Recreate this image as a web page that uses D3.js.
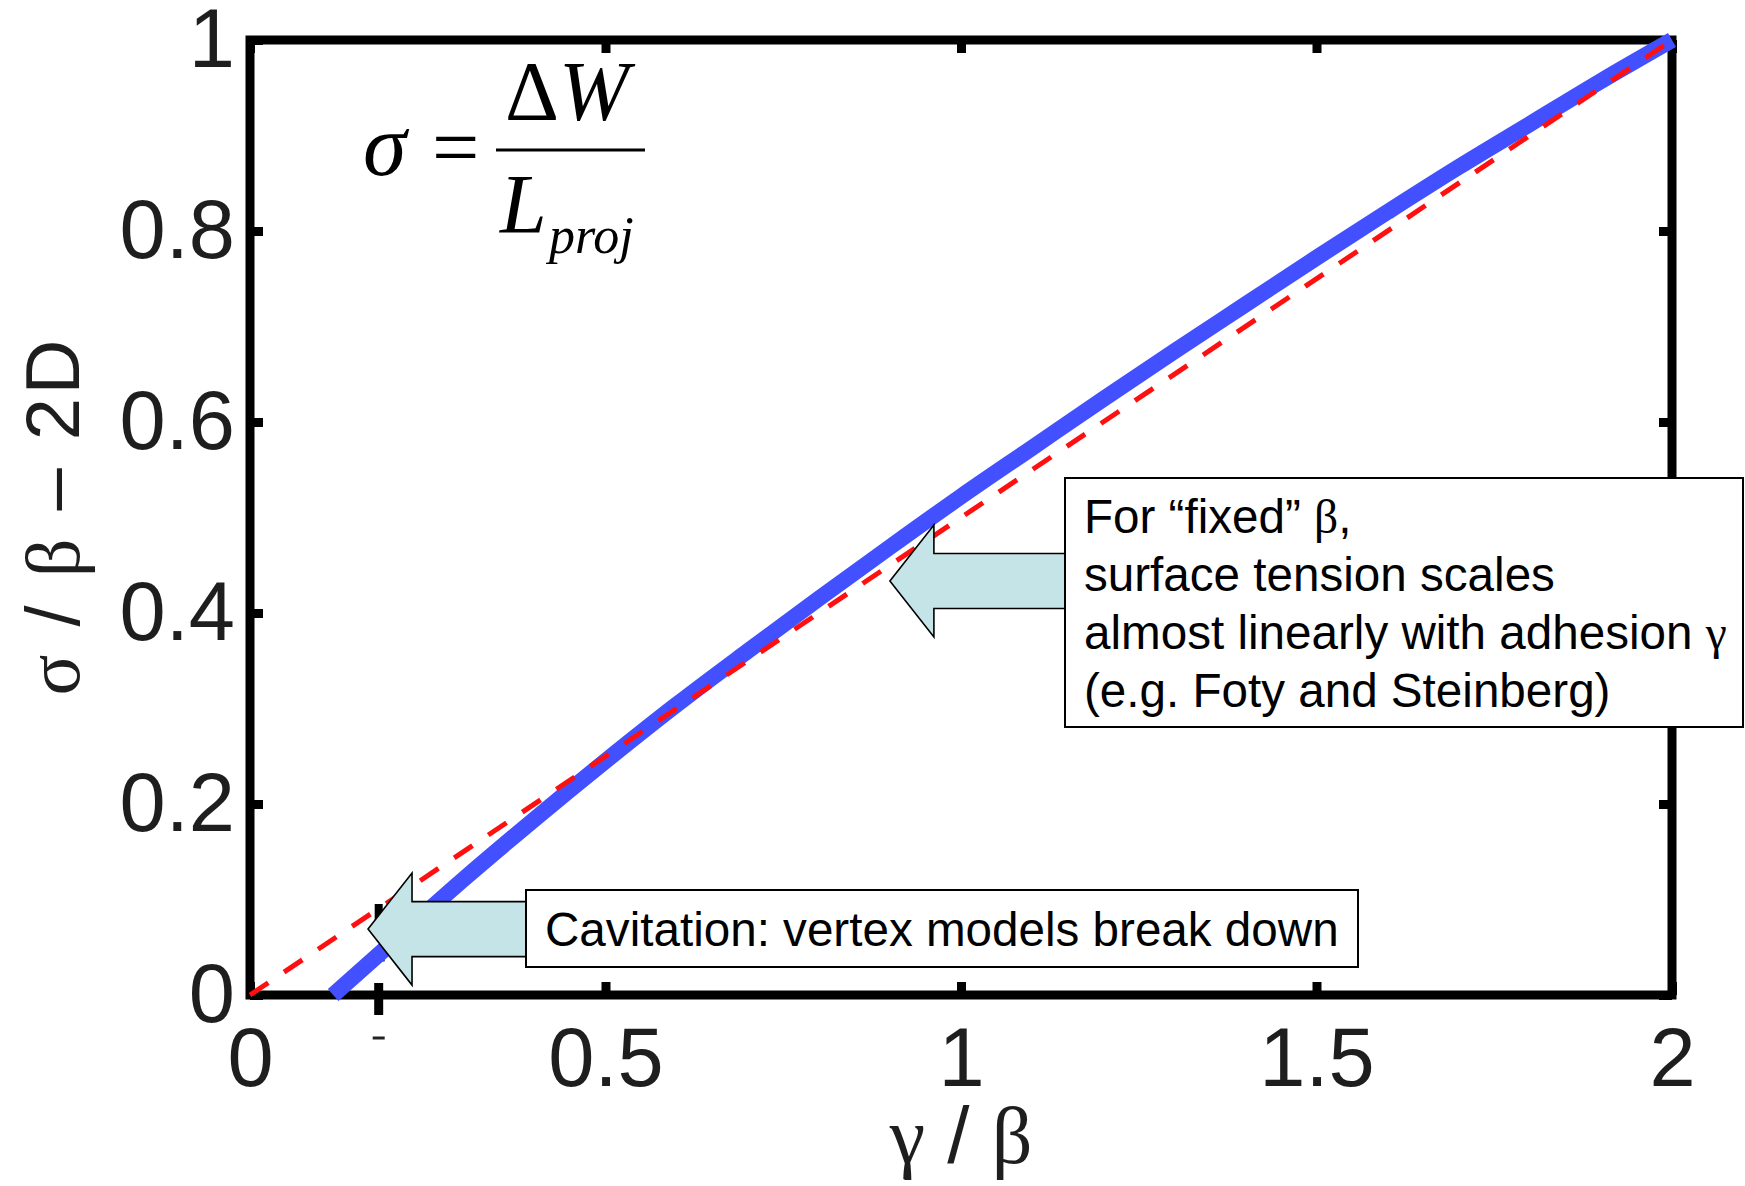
<!DOCTYPE html>
<html>
<head>
<meta charset="utf-8">
<script src="https://cdn.jsdelivr.net/npm/d3@7"></script>
<style>
  html, body { margin: 0; padding: 0; background: #fff; }
  svg { display: block; }
</style>
</head>
<body>
<script>
/* surface tension vs adhesion, vertex model 2D */

const width = 1745, height = 1186;

// blue curve: sigma/beta
const gammaVals = [0.117, 0.2, 0.3, 0.4, 0.5, 0.6, 0.7, 0.8, 0.9, 1.0,
  1.1, 1.2, 1.3, 1.4, 1.5, 1.6, 1.7, 1.8, 1.9, 2.0];
const sigmaVals = [0, 0.055, 0.121, 0.184, 0.245, 0.304, 0.360, 0.415, 0.469, 0.522,
  0.573, 0.624, 0.674, 0.723, 0.772, 0.820, 0.867, 0.912, 0.957, 1.0];

// red dashed linear reference
const refX = [0, 2];
const refY = [0, 1];

const xTicks = [0, 0.5, 1, 1.5, 2];
const yTicks = [0, 0.2, 0.4, 0.6, 0.8, 1];
const xTickLabels = ["0", "0.5", "1", "1.5", "2"];
const yTickLabels = ["0", "0.2", "0.4", "0.6", "0.8", "1"];
const strayTick = 0.181; // extra tick on the x axis

const notes = [
  { at: [0.166, 0.069], lines: [["Cavitation: vertex models break down"]] },
  { at: [0.90, 0.4335], lines: [
    ["For \u201cfixed\u201d ", {g: "\u03b2"}, ","],
    ["surface tension scales"],
    ["almost linearly with adhesion ", {g: "\u03b3"}],
    ["(e.g. Foty and Steinberg)"]
  ]}
];

const margin = {top: 40, right: 73, bottom: 191, left: 250};

const x = d3.scaleLinear()
  .domain([0, 2])
  .range([margin.left, width - margin.right]);

const y = d3.scaleLinear()
  .domain([0, 1])
  .range([height - margin.bottom, margin.top]);

const svg = d3.select("body").append("svg")
  .attr("width", width)
  .attr("height", height);

const sans = "'Liberation Sans', Arial, Helvetica, sans-serif";
const serif = "'Liberation Serif', 'Times New Roman', serif";
const ink = "#1e1e1e";

// frame
svg.append("rect")
  .attr("x", x(0)).attr("y", y(1))
  .attr("width", x(2) - x(0)).attr("height", y(0) - y(1))
  .attr("fill", "none").attr("stroke", "#000").attr("stroke-width", 9);

function styleAxis(g) {
  g.select(".domain").remove();
  g.selectAll(".tick line").attr("stroke", "#000").attr("stroke-width", 9);
  g.selectAll(".tick text")
    .attr("fill", ink)
    .attr("font-family", sans)
    .attr("font-size", 83);
}

svg.append("g")
  .attr("transform", `translate(0,${y(0)})`)
  .call(d3.axisBottom(x).tickValues(xTicks)
    .tickFormat((d, i) => xTickLabels[i])
    .tickSizeInner(-13).tickSizeOuter(0).tickPadding(32))
  .call(styleAxis);

svg.append("g")
  .attr("transform", `translate(${x(0)},0)`)
  .call(d3.axisLeft(y).tickValues(yTicks)
    .tickFormat((d, i) => yTickLabels[i])
    .tickSizeInner(-13).tickSizeOuter(0).tickPadding(15))
  .call(styleAxis);

svg.append("g")
  .attr("transform", `translate(0,${y(1)})`)
  .call(d3.axisTop(x).tickValues(xTicks).tickFormat("")
    .tickSizeInner(-13).tickSizeOuter(0))
  .call(styleAxis);

svg.append("g")
  .attr("transform", `translate(${x(2)},0)`)
  .call(d3.axisRight(y).tickValues(yTicks).tickFormat("")
    .tickSizeInner(-13).tickSizeOuter(0))
  .call(styleAxis);

// the stray tick and its little dashes
const sx = x(strayTick);
svg.append("line")
  .attr("x1", sx).attr("x2", sx)
  .attr("y1", y(0) - 12).attr("y2", y(0) + 20)
  .attr("stroke", "#000").attr("stroke-width", 9);
svg.append("line")
  .attr("x1", sx).attr("x2", sx)
  .attr("y1", y(0) - 91).attr("y2", y(0) - 73)
  .attr("stroke", "#000").attr("stroke-width", 8);
[y(0) - 35, y(0) + 43].forEach(py => {
  svg.append("line")
    .attr("x1", sx - 6).attr("x2", sx + 6)
    .attr("y1", py).attr("y2", py)
    .attr("stroke", "#222").attr("stroke-width", 3);
});

const line = d3.line()
  .x(d => x(d[0]))
  .y(d => y(d[1]))
  .curve(d3.curveMonotoneX);

svg.append("path")
  .datum(d3.zip(gammaVals, sigmaVals))
  .attr("d", line)
  .attr("fill", "none")
  .attr("stroke", "#4250ff")
  .attr("stroke-width", 16);

svg.append("path")
  .datum(d3.zip(refX, refY))
  .attr("d", d3.line().x(d => x(d[0])).y(d => y(d[1])))
  .attr("fill", "none")
  .attr("stroke", "#ff1010")
  .attr("stroke-width", 5)
  .attr("stroke-dasharray", "22,19");

// block arrows pointing left, then the text boxes
const boxes = [
  {x0: 526, y0: 890, w: 832, h: 77, tx: 545, ty: [946]},
  {x0: 1065, y0: 478, w: 678, h: 249, tx: 1084, ty: [533, 591, 649, 707]}
];

notes.forEach((n, i) => {
  const b = boxes[i];
  const tipX = x(n.at[0]), tipY = y(n.at[1]);
  const hx = tipX + 44;
  const pts = [
    [tipX, tipY], [hx, tipY - 56], [hx, tipY - 27.5], [b.x0, tipY - 27.5],
    [b.x0, tipY + 27.5], [hx, tipY + 27.5], [hx, tipY + 56]
  ];
  svg.append("polygon")
    .attr("points", pts.map(p => p.join(",")).join(" "))
    .attr("fill", "#c4e4e7")
    .attr("stroke", "#000")
    .attr("stroke-width", 1.6)
    .attr("stroke-linejoin", "miter");

  svg.append("rect")
    .attr("x", b.x0).attr("y", b.y0)
    .attr("width", b.w).attr("height", b.h)
    .attr("fill", "#fff").attr("stroke", "#000").attr("stroke-width", 2);

  n.lines.forEach((parts, j) => {
    const t = svg.append("text")
      .attr("x", b.tx).attr("y", b.ty[j])
      .attr("font-family", sans)
      .attr("font-size", 47.6)
      .attr("fill", "#000");
    parts.forEach(p => {
      if (typeof p === "string") t.append("tspan").text(p);
      else t.append("tspan").attr("font-family", serif).text(p.g);
    });
  });
});

// axis labels
const xl = svg.append("text")
  .attr("x", (x(0) + x(2)) / 2)
  .attr("y", 1163)
  .attr("text-anchor", "middle")
  .attr("font-size", 80)
  .attr("fill", ink);
xl.append("tspan").attr("font-family", serif).text("\u03b3");
xl.append("tspan").attr("font-family", sans).text(" / ");
xl.append("tspan").attr("font-family", serif).text("\u03b2");

const yl = svg.append("text")
  .attr("transform", `translate(79,${(y(0) + y(1)) / 2}) rotate(-90)`)
  .attr("text-anchor", "middle")
  .attr("font-size", 76)
  .attr("textLength", 356)
  .attr("lengthAdjust", "spacing")
  .attr("fill", ink);
yl.append("tspan").attr("font-family", serif).text("\u03c3");
yl.append("tspan").attr("font-family", sans).text(" / ");
yl.append("tspan").attr("font-family", serif).text("\u03b2");
yl.append("tspan").attr("font-family", sans).text(" \u2013 2D");

// formula sigma = dW / L_proj
const f = svg.append("g").attr("font-family", serif).attr("fill", "#000");
f.append("text").attr("x", 363).attr("y", 175)
  .attr("font-size", 88).attr("font-style", "italic").text("\u03c3");
f.append("text").attr("x", 432).attr("y", 176)
  .attr("font-size", 84).text("=");
f.append("line")
  .attr("x1", 496).attr("x2", 645).attr("y1", 150).attr("y2", 150)
  .attr("stroke", "#000").attr("stroke-width", 3);
const num = f.append("text").attr("x", 505).attr("y", 120).attr("font-size", 84);
num.append("tspan").text("\u0394");
num.append("tspan").attr("font-style", "italic").text("W");
f.append("text").attr("x", 500).attr("y", 233)
  .attr("font-size", 84).attr("font-style", "italic").text("L");
f.append("text").attr("x", 549).attr("y", 253)
  .attr("font-size", 52).attr("font-style", "italic").text("proj");
</script>
</body>
</html>
